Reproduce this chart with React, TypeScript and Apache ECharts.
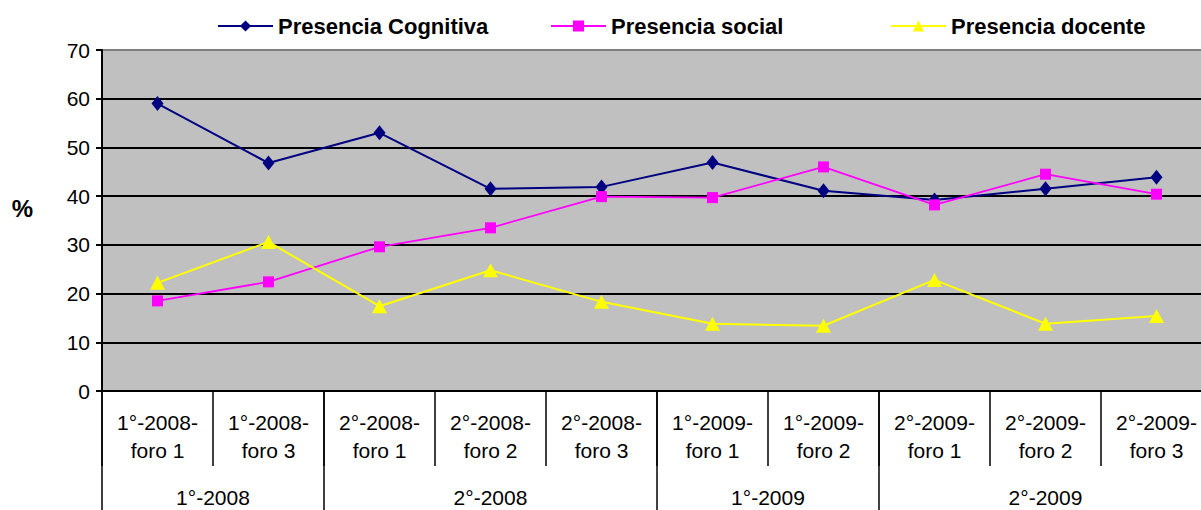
import React, { useEffect, useRef } from "react";
import * as echarts from "echarts";

const categories = [
  "1°-2008-\nforo 1",
  "1°-2008-\nforo 3",
  "2°-2008-\nforo 1",
  "2°-2008-\nforo 2",
  "2°-2008-\nforo 3",
  "1°-2009-\nforo 1",
  "1°-2009-\nforo 2",
  "2°-2009-\nforo 1",
  "2°-2009-\nforo 2",
  "2°-2009-\nforo 3",
];
const groupNames = ["1°-2008", "2°-2008", "1°-2009", "2°-2009"];
const groupSizes = [2, 3, 2, 3];

const cognitiva = [59, 46.8, 53, 41.5, 41.9, 46.9, 41.1, 39.2, 41.5, 43.9];
const social = [18.5, 22.4, 29.6, 33.5, 39.9, 39.7, 46, 38.2, 44.5, 40.4];
const docente = [22.2, 30.6, 17.4, 24.8, 18.3, 13.8, 13.4, 22.8, 13.8, 15.4];

const yTicks = [0, 10, 20, 30, 40, 50, 60, 70];

const FONT = "Arial, 'Liberation Sans', sans-serif";

export default function App() {
  const ref = useRef<HTMLDivElement>(null);
  useEffect(() => {
    document.body.style.margin = "0";
    const chart = echarts.init(ref.current!, null, { renderer: "svg" });

    const boundaries: number[] = [0];
    const centers: number[] = [];
    let acc = 0;
    groupSizes.forEach((s) => {
      centers.push(acc + s / 2);
      acc += s;
      boundaries.push(acc);
    });

    const legendText = { color: "#000", fontSize: 22, fontWeight: "bold" as const, fontFamily: FONT };
    const mkLegend = (name: string, left: number) => ({
      data: [name],
      left,
      top: 10,
      itemWidth: 55,
      itemHeight: 14,
      textStyle: legendText,
    });

    chart.setOption({
      animation: false,
      backgroundColor: "#fff",
      legend: [
        mkLegend("Presencia Cognitiva", 212),
        mkLegend("Presencia social", 545),
        mkLegend("Presencia docente", 885),
      ],
      grid: {
        left: 102,
        right: -11,
        top: 50,
        bottom: 119,
        show: true,
        backgroundColor: "#C0C0C0",
        borderColor: "#808080",
        borderWidth: 2,
        outerBoundsMode: "none",
      },
      xAxis: [
        {
          type: "category",
          data: categories,
          boundaryGap: true,
          axisLine: { show: true, lineStyle: { color: "#000", width: 2 } },
          axisTick: { show: true, interval: 0, length: 75, lineStyle: { color: "#000", width: 1.5 } },
          axisLabel: {
            interval: 0,
            margin: 17,
            color: "#000",
            fontSize: 21,
            lineHeight: 28,
            fontFamily: FONT,
          },
          splitLine: { show: false },
        },
        {
          type: "value",
          min: 0,
          max: categories.length,
          position: "bottom",
          axisLine: { show: false },
          axisTick: {
            show: true,
            customValues: boundaries,
            length: 119,
            lineStyle: { color: "#000", width: 1.5 },
          },
          axisLabel: {
            customValues: centers,
            margin: 96,
            color: "#000",
            fontSize: 21,
            fontFamily: FONT,
            formatter: (v: number) => {
              const i = centers.findIndex((c) => Math.abs(c - v) < 1e-6);
              return i >= 0 ? groupNames[i] : "";
            },
          },
          splitLine: { show: false },
        },
      ],
      yAxis: {
        type: "value",
        min: yTicks[0],
        max: yTicks[yTicks.length - 1],
        interval: 10,
        name: "%",
        nameLocation: "middle",
        nameGap: 69,
        nameRotate: 0,
        nameTextStyle: { color: "#000", fontSize: 24, fontWeight: "bold", fontFamily: FONT, verticalAlign: "bottom" },
        axisLine: { show: true, lineStyle: { color: "#000", width: 2 } },
        axisTick: { show: true, length: 6, lineStyle: { color: "#000", width: 2 } },
        axisLabel: { margin: 12, color: "#000", fontSize: 21, fontFamily: FONT },
        splitLine: { show: true, showMinLine: false, showMaxLine: false, lineStyle: { color: "#000", width: 2 } },
      },
      series: [
        {
          name: "Presencia Cognitiva",
          type: "line",
          xAxisIndex: 0,
          data: cognitiva,
          symbol: "diamond",
          symbolSize: [12, 15],
          itemStyle: { color: "#000080" },
          lineStyle: { color: "#000080", width: 2 },
        },
        {
          name: "Presencia social",
          type: "line",
          xAxisIndex: 0,
          data: social,
          symbol: "rect",
          symbolSize: 11,
          itemStyle: { color: "#FF00FF" },
          lineStyle: { color: "#FF00FF", width: 1.8 },
        },
        {
          name: "Presencia docente",
          type: "line",
          xAxisIndex: 0,
          data: docente,
          symbol: "triangle",
          symbolSize: [15, 14],
          itemStyle: { color: "#FFFF00" },
          lineStyle: { color: "#FFFF00", width: 2 },
        },
      ],
    });
    return () => chart.dispose();
  }, []);
  return <div ref={ref} style={{ width: 1201, height: 510 }} />;
}
